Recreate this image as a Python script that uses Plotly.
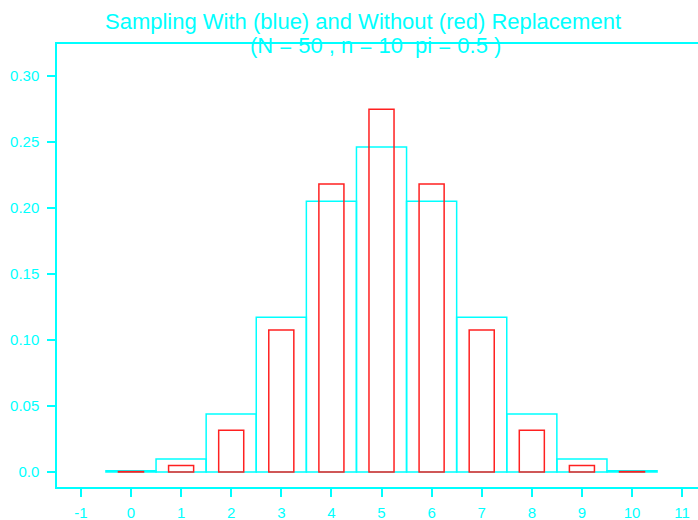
import plotly.graph_objects as go

# Number of successes in a sample of n = 10
k_values = [0, 1, 2, 3, 4, 5, 6, 7, 8, 9, 10]

# Binomial probabilities (sampling with replacement, pi = 0.5)
with_replacement = [0.000977, 0.009766, 0.043945, 0.117188, 0.205078, 0.246094,
                    0.205078, 0.117188, 0.043945, 0.009766, 0.000977]

# Hypergeometric probabilities (sampling without replacement, N = 50)
without_replacement = [0.000318, 0.004972, 0.031588, 0.107631, 0.218094, 0.274794,
                       0.218094, 0.107631, 0.031588, 0.004972, 0.000318]

x_ticks = [-1, 0, 1, 2, 3, 4, 5, 6, 7, 8, 9, 10, 11]
y_ticks = [0.0, 0.05, 0.10, 0.15, 0.20, 0.25, 0.30]
y_tick_labels = ["0.0", "0.05", "0.10", "0.15", "0.20", "0.25", "0.30"]

CYAN = "#00ffff"
RED = "#ff2020"
FONT = "Liberation Sans, Arial, sans-serif"

fig = go.Figure()
fig.add_trace(go.Bar(
    x=k_values, y=with_replacement, width=1.0,
    marker=dict(color="rgba(0,0,0,0)", line=dict(color=CYAN, width=1.5)),
    showlegend=False,
))
fig.add_trace(go.Bar(
    x=k_values, y=without_replacement, width=0.5,
    marker=dict(color="rgba(0,0,0,0)", line=dict(color=RED, width=1.5)),
    showlegend=False,
))

tick_font = dict(family=FONT, size=15, color=CYAN)

fig.update_layout(
    width=698, height=520,
    margin=dict(l=57, r=0, t=44, b=33),
    paper_bgcolor="white", plot_bgcolor="white",
    barmode="overlay",
    xaxis=dict(
        range=[-1.477, 11.317], automargin=False,
        tickvals=x_ticks, ticktext=[str(v) for v in x_ticks],
        showgrid=False, zeroline=False,
        showline=True, linecolor=CYAN, linewidth=1.5, mirror=True,
        ticks="outside", ticklen=8, tickwidth=1.5, tickcolor=CYAN,
        tickfont=tick_font, ticklabelstandoff=3,
    ),
    yaxis=dict(
        range=[-0.01136, 0.3242], automargin=False,
        tickvals=y_ticks, ticktext=y_tick_labels,
        showgrid=False, zeroline=False,
        showline=True, linecolor=CYAN, linewidth=1.5,
        ticks="outside", ticklen=8, tickwidth=1.5, tickcolor=CYAN,
        tickfont=tick_font, ticklabelstandoff=5,
    ),
    annotations=[
        dict(text="Sampling With (blue) and Without (red) Replacement",
             xref="paper", yref="paper", x=(363 - 57) / 641, y=1.0,
             yshift=44 - 21, xanchor="center", yanchor="middle", showarrow=False,
             font=dict(family=FONT, size=22, color=CYAN)),
        dict(text="(N = 50 , n = 10&nbsp; pi = 0.5 )",
             xref="paper", yref="paper", x=(375.5 - 57) / 641, y=1.0,
             yshift=44 - 45.5, xanchor="center", yanchor="middle", showarrow=False,
             font=dict(family=FONT, size=22, color=CYAN)),
    ],
)

fig.write_html("out.html")
